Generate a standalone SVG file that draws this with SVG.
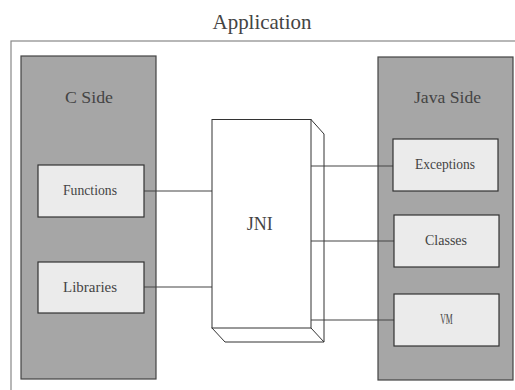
<svg xmlns="http://www.w3.org/2000/svg" width="515" height="390" viewBox="0 0 515 390">
<style>
text{font-family:"Liberation Serif","DejaVu Serif",serif;fill:#444;text-anchor:middle}
.panel{fill:#a6a6a6;stroke:#444;stroke-width:1.2}
.box{fill:#ebebeb;stroke:#333;stroke-width:1.2}
.conn line{stroke:#444;stroke-width:1.2}
.jni{fill:#fff;stroke:#333;stroke-width:1}
.lbl{font-size:15px}
</style>
<rect width="515" height="390" fill="#fff"/>
<text x="262" y="29" font-size="21" textLength="99" lengthAdjust="spacingAndGlyphs">Application</text>
<g id="app-frame"><rect x="11" y="41" width="520" height="360" fill="none" stroke="#888" stroke-width="1.2"/></g>
<g id="c-side"><rect class="panel" x="21" y="56" width="135" height="323"/><text x="89" y="103" font-size="16" textLength="48" lengthAdjust="spacingAndGlyphs">C Side</text></g>
<g id="java-side"><rect class="panel" x="378" y="57" width="135" height="323"/><text x="447.5" y="103" font-size="16" textLength="67" lengthAdjust="spacingAndGlyphs">Java Side</text></g>
<g class="conn" id="connectors">
<line x1="144" y1="191" x2="212" y2="191"/>
<line x1="144" y1="287" x2="212" y2="287"/>
<line x1="311" y1="166" x2="393" y2="166"/>
<line x1="311" y1="241" x2="394" y2="241"/>
<line x1="311" y1="320" x2="394" y2="320"/>
</g>
<g id="jni">
<path class="jni" d="M311,119.5 L324,134 L324,342 L225,342 L212,328 Z"/>
<line x1="311" y1="328" x2="324" y2="342" stroke="#333"/>
<rect class="jni" x="212" y="119.5" width="99" height="208.5"/>
<path d="M311,166 H324 M311,241 H324 M311,320 H324" stroke="#444" stroke-width="1.2" fill="none"/>
<text x="259.7" y="230" font-size="18.5" textLength="26" lengthAdjust="spacingAndGlyphs">JNI</text>
</g>
<g id="functions"><rect class="box" x="38" y="165" width="106" height="52"/><text class="lbl" x="90" y="195" textLength="54" lengthAdjust="spacingAndGlyphs">Functions</text></g>
<g id="libraries"><rect class="box" x="38" y="262" width="106" height="51"/><text class="lbl" x="90" y="292" textLength="54" lengthAdjust="spacingAndGlyphs">Libraries</text></g>
<g id="exceptions"><rect class="box" x="393" y="139" width="105" height="52"/><text class="lbl" x="445" y="169" textLength="60" lengthAdjust="spacingAndGlyphs">Exceptions</text></g>
<g id="classes"><rect class="box" x="394" y="215" width="105" height="52"/><text class="lbl" x="446" y="245" textLength="42" lengthAdjust="spacingAndGlyphs">Classes</text></g>
<g id="vm"><rect class="box" x="394" y="294" width="105" height="52"/><text class="lbl" x="446.5" y="323.5" textLength="12.5" lengthAdjust="spacingAndGlyphs">VM</text></g>
</svg>
